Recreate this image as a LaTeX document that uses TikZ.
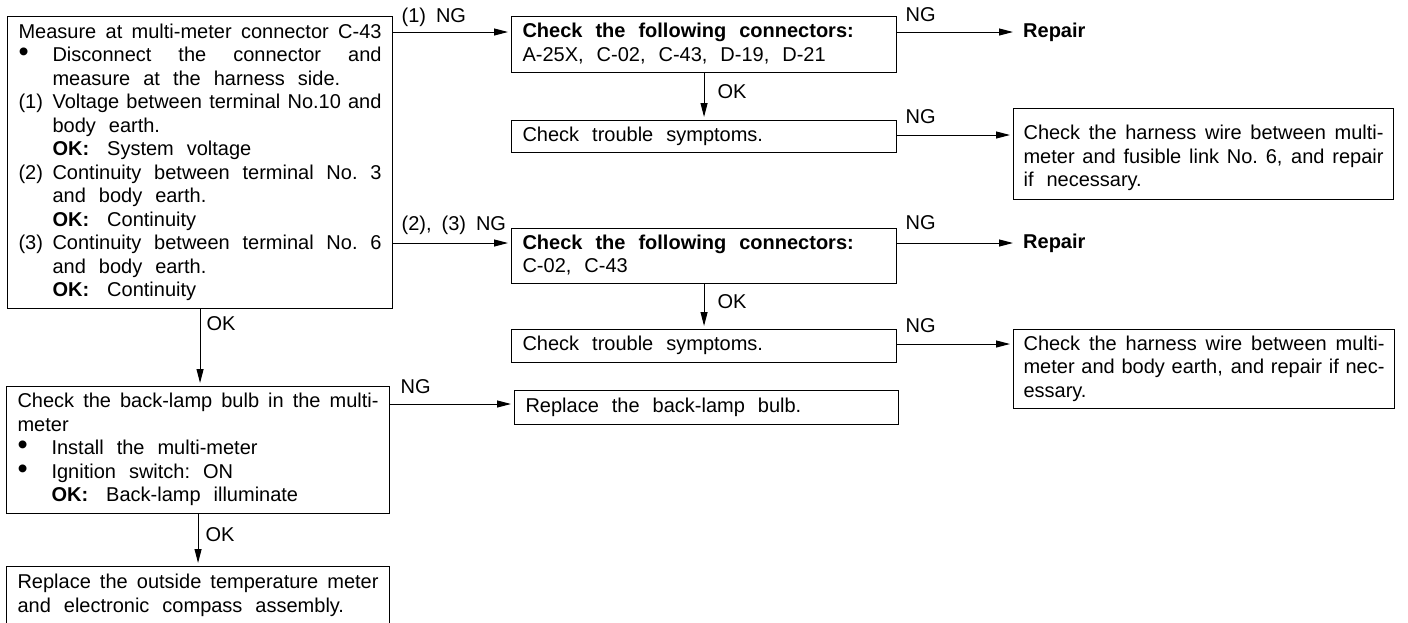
\documentclass[tikz,border=0pt]{standalone}
\usepackage{fontspec}
\setmainfont{Liberation Sans}
\usetikzlibrary{arrows.meta}
\newcommand\setsp{\spaceskip=0.65em plus 0.8em minus 0.4em\relax\xspaceskip=\spaceskip}
\newcommand\vsx{\setsp\rule[-5pt]{0pt}{18pt}}
\newcommand\fullJ[1]{\makebox[\hsize][s]{\setsp #1}}
\newcommand\indJ[2]{\makebox[34pt][l]{#1}\makebox[\dimexpr\hsize-34pt\relax][s]{\setsp #2}}
\newcommand\indL[2]{\makebox[34pt][l]{#1}#2}
\newcommand\bulx{\smash{\scalebox{1.45}{\textbullet}}}
\newcommand\okline[1]{\textbf{OK:}\hspace{18pt}#1}
\begin{document}
\begin{tikzpicture}[x=1pt,y=-1pt,
  font={\fontsize{20}{23.5}\selectfont\spaceskip=0.5em plus 0.6em minus 0.25em\relax},
  box/.style={draw, line width=1.1pt, anchor=north west, inner xsep=11pt, inner ysep=0pt, align=left},
  arr/.style={line width=1pt, -{Triangle[length=14pt,width=7pt]}, shorten >=3pt},
  lab/.style={anchor=base west, inner sep=0pt}]
\clip (0,0) rectangle (1408,622);

\node[box, text width=363pt, minimum height=292pt] (A) at (7,16) {%
\vsx\fullJ{Measure at multi-meter connector C-43}\\
\vsx\indJ{\bulx}{Disconnect the connector and}\\
\vsx\indL{}{measure at the harness side.}\\
\vsx\indJ{(1)}{Voltage between terminal No.10 and}\\
\vsx\indL{}{body earth.}\\
\vsx\indL{}{\okline{System voltage}}\\
\vsx\indJ{(2)}{Continuity between terminal No. 3}\\
\vsx\indL{}{and body earth.}\\
\vsx\indL{}{\okline{Continuity}}\\
\vsx\indJ{(3)}{Continuity between terminal No. 6}\\
\vsx\indL{}{and body earth.}\\
\vsx\indL{}{\okline{Continuity}}};

\node[box, text width=363pt, minimum height=56pt] (B1) at (511,16) {%
\vsx\textbf{Check the following connectors:}\\
\vsx A-25X, C-02, C-43, D-19, D-21};
\node[box, text width=363pt, minimum height=32pt] (B2) at (511,120) {%
\vsx Check trouble symptoms.};
\node[box, text width=363pt, minimum height=55pt] (B3) at (511,228) {%
\vsx\textbf{Check the following connectors:}\\
\vsx C-02, C-43};
\node[box, text width=363pt, minimum height=33pt] (B4) at (511,329) {%
\vsx Check trouble symptoms.};

\node[box, text width=361pt, minimum height=127pt] (C) at (6,386) {%
\vsx\fullJ{Check the back-lamp bulb in the multi-}\\
\vsx meter\\
\vsx\indL{\bulx}{Install the multi-meter}\\
\vsx\indL{\bulx}{Ignition switch: ON}\\
\vsx\indL{}{\okline{Back-lamp illuminate}}};
\node[box, text width=361pt, minimum height=58pt] (D) at (6,566) {%
\vsx\fullJ{Replace the outside temperature meter}\\
\vsx and electronic compass assembly.};
\node[box, text width=362pt, minimum height=34pt] (E) at (514,390) {%
\vsx Replace the back-lamp bulb.};

\node[box, inner xsep=10pt, text width=360pt, minimum height=91pt] (F) at (1013,108) {%
\setsp\rule[-5pt]{0pt}{28pt}\fullJ{Check the harness wire between multi-}\\
\vsx\fullJ{meter and fusible link No. 6, and repair}\\
\vsx if necessary.};
\node[box, inner xsep=10pt, text width=361pt, minimum height=79pt] (G) at (1013,329) {%
\vsx\fullJ{Check the harness wire between multi-}\\
\vsx\fullJ{meter and body earth, and repair if nec-}\\
\vsx essary.};

\node[anchor=west, inner sep=0pt] (R1) at (1023,32) {\textbf{Repair}};
\node[anchor=west, inner sep=0pt] (R2) at (1023,243) {\textbf{Repair}};

% left column connectors
\coordinate (b1) at ([yshift=-16pt]B1.north west);
\draw[arr] (A.east |- b1) -- (b1) node[lab,pos=0,xshift=8pt,yshift=10pt] (L1) {(1) NG};
\coordinate (b3) at ([yshift=-15pt]B3.north west);
\draw[arr] (A.east |- b3) -- (b3) node[lab,pos=0,xshift=8pt,yshift=13pt] (L2) {(2), (3) NG};
\draw[arr] (A.south) -- (A.south |- C.north) node[lab,pos=0,xshift=6pt,yshift=-21pt] (L3) {OK};
\coordinate (e1) at ([yshift=-14pt]E.north west);
\draw[arr] (C.east |- e1) -- (e1) node[lab,pos=0,xshift=10pt,yshift=11pt] (L4) {NG};
\draw[arr] (C.south) -- (C.south |- D.north) node[lab,pos=0,xshift=7pt,yshift=-27pt] (L5) {OK};

% middle column connectors
\draw[arr] (B1.south) -- (B2.north) node[lab,pos=0,xshift=13pt,yshift=-25pt] (L6) {OK};
\draw[arr] (B3.south) -- (B4.north) node[lab,pos=0,xshift=13pt,yshift=-24pt] (L7) {OK};
\draw[arr] (B1.east |- R1) -- ([xshift=-7pt]R1.west) node[lab,pos=0,xshift=8pt,yshift=11pt] (L8) {NG};
\coordinate (f1) at ([yshift=-27pt]F.north west);
\draw[arr] (B2.east |- f1) -- (f1) node[lab,pos=0,xshift=8pt,yshift=12pt] (L9) {NG};
\draw[arr] (B3.east |- R2) -- ([xshift=-7pt]R2.west) node[lab,pos=0,xshift=8pt,yshift=14pt] (L10) {NG};
\coordinate (g1) at ([yshift=-15pt]G.north west);
\draw[arr] (B4.east |- g1) -- (g1) node[lab,pos=0,xshift=8pt,yshift=12pt] (L11) {NG};
\end{tikzpicture}
\end{document}
